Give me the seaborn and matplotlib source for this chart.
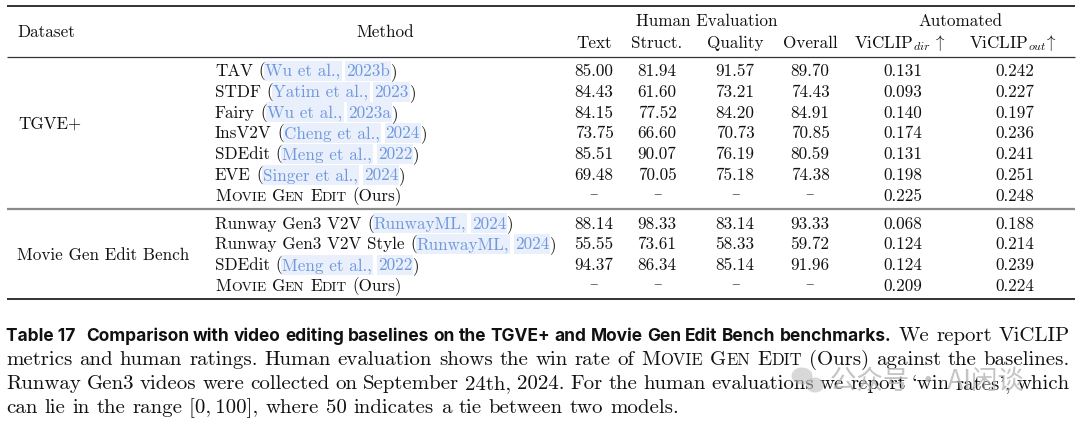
import matplotlib
matplotlib.use("Agg")
import matplotlib.pyplot as plt
from matplotlib.patches import Rectangle, Ellipse
from matplotlib import font_manager
import seaborn as sns

# ---------------- data ----------------
datasets = ["TGVE+", "Movie Gen Edit Bench"]
methods = ["TAV", "STDF", "Fairy", "InsV2V", "SDEdit", "EVE", "Movie Gen Edit",
           "Runway Gen3 V2V", "Runway Gen3 V2V Style", "SDEdit", "Movie Gen Edit"]
ours_flags = [False, False, False, False, False, False, True, False, False, False, True]
cite_authors = ["Wu et al.,", "Yatim et al.,", "Wu et al.,", "Cheng et al.,", "Meng et al.,",
                "Singer et al.,", None, "RunwayML,", "RunwayML,", "Meng et al.,", None]
cite_years = ["2023b", "2023", "2023a", "2024", "2022", "2024", None, "2024", "2024", "2022", None]
text_scores = [85.00, 84.43, 84.15, 73.75, 85.51, 69.48, None, 88.14, 55.55, 94.37, None]
struct_scores = [81.94, 61.60, 77.52, 66.60, 90.07, 70.05, None, 98.33, 73.61, 86.34, None]
quality_scores = [91.57, 73.21, 84.20, 70.73, 76.19, 75.18, None, 83.14, 58.33, 85.14, None]
overall_scores = [89.70, 74.43, 84.91, 70.85, 80.59, 74.38, None, 93.33, 59.72, 91.96, None]
viclip_dir = [0.131, 0.093, 0.140, 0.174, 0.131, 0.198, 0.225, 0.068, 0.124, 0.124, 0.209]
viclip_out = [0.242, 0.227, 0.197, 0.236, 0.241, 0.251, 0.248, 0.188, 0.214, 0.239, 0.224]
group_headers = ["Human Evaluation", "Automated"]
col_headers = ["Text", "Struct.", "Quality", "Overall",
               r"ViCLIP$_{dir}\,\uparrow$", r"ViCLIP$_{out}\!\uparrow$"]
left_headers = ["Dataset", "Method"]
caption_title = "Table 17"
caption_bold = "Comparison with video editing baselines on the TGVE+ and Movie Gen Edit Bench benchmarks."
caption_lines = [
    "We report ViCLIP",
    "metrics and human ratings. Human evaluation shows the win rate of {MOVIE} {GEN} {EDIT} (Ours) against the baselines.",
    "Runway Gen3 videos were collected on September 24th, 2024. For the human evaluations we report `win rates', which",
    "can lie in the range [0,\u2009100], where 50 indicates a tie between two models.",
]
watermark = "公众号 · AI闲谈"

# ---------------- style ----------------
sns.set_theme(style="white")
plt.rcParams["mathtext.fontset"] = "cm"
plt.rcParams["axes.unicode_minus"] = False

names = {f.name for f in font_manager.fontManager.ttflist}
SERIF = "cmr10" if "cmr10" in names else "DejaVu Serif"
SANS_BOLD = "Inter" if "Inter" in names else "Roboto"

TS = 12.3          # table font size
CS = 15.0          # caption serif size
INK = "#111111"
LINK = "#6f98de"
HL = "#eaf0fb"

fig = plt.figure(figsize=(10.8, 4.25), dpi=100)
ax = fig.add_axes([0, 0, 1, 1])
ax.set_xlim(0, 1080)
ax.set_ylim(425, 0)
ax.axis("off")
renderer = fig.canvas.get_renderer()


def fkw(r):
    return dict(family=r.get("family", SERIF), size=r.get("size", TS),
                weight=r.get("weight", "normal"), color=r.get("color", INK))


def width_of(s, **kw):
    t = ax.text(0, 0, s, **kw)
    w = t.get_window_extent(renderer).width
    t.remove()
    return w


def space_of(r):
    kw = fkw(r)
    return width_of("x x", **kw) - width_of("xx", **kw)


def draw_runs(x, y, runs, justify_to=None, hl_h=(15, 5)):
    widths = [width_of(r["s"], **fkw(r)) for r in runs]
    spaces = [space_of(r) * r.get("spmul", 1.0) if r.get("sp") else 0 for r in runs]
    total = sum(widths) + sum(spaces)
    nsp = sum(1 for r in runs if r.get("sp"))
    extra = 0
    if justify_to is not None and nsp:
        extra = (justify_to - x - total) / nsp
    cx = x
    for r, w, s in zip(runs, widths, spaces):
        if r.get("sp"):
            cx += s + extra
        ax.text(cx, y, r["s"], ha="left", va="baseline", zorder=3, **fkw(r))
        if r.get("hl"):
            ax.add_patch(Rectangle((cx - 1, y - hl_h[0]), w + 2, hl_h[0] + hl_h[1],
                                   fc=HL, ec="none", zorder=1))
        cx += w
    return cx


def smallcaps(word, size, sp, **extra):
    big = dict(s=word[0], size=size, sp=sp, **extra)
    small = dict(s=word[1:].upper(), size=size * 0.8, sp=False, **extra)
    return [big, small]


def words_to_runs(text, size, family=SERIF, first_sp=False):
    runs = []
    for i, w in enumerate(text.split(" ")):
        sp = first_sp or i > 0
        if w.startswith("{") and w.endswith("}"):
            runs += smallcaps(w[1:-1].capitalize(), size, sp, family=family)
        else:
            fam = [family, "DejaVu Serif"] if "\u2009" in w else family
            runs.append(dict(s=w, size=size, sp=sp, family=fam))
    return runs


# ---------------- rules ----------------
X0, X1 = 7, 1075
ax.plot([X0, X1], [6, 6], color="#222222", lw=1.3, solid_capstyle="butt")
ax.plot([X0, X1], [57, 57], color="#333333", lw=0.9, solid_capstyle="butt")
ax.plot([X0, X1], [208.5, 208.5], color="#8a8a8a", lw=1.6, solid_capstyle="butt")
ax.plot([X0, X1], [299, 299], color="#222222", lw=1.3, solid_capstyle="butt")

# ---------------- header ----------------
col_x = [594, 657, 735, 810, 900, 1013]
group_x = [707, 960]
ax.text(17, 37, left_headers[0], ha="left", va="baseline", family=SERIF, size=TS, color=INK)
ax.text(385, 37, left_headers[1], ha="center", va="baseline", family=SERIF, size=TS, color=INK)
for gx, g in zip(group_x, group_headers):
    ax.text(gx, 25.5, g, ha="center", va="baseline", family=SERIF, size=TS, color=INK)
for cx, h in zip(col_x, col_headers):
    ax.text(cx, 47.5, h, ha="center", va="baseline", family=SERIF, size=TS, color=INK)

# ---------------- body ----------------
STEP = 20.83
row_base = [76 + i * STEP for i in range(7)] + [228.5 + i * STEP for i in range(4)]
ax.text(18, 128.5, datasets[0], ha="left", va="baseline", family=SERIF, size=TS, color=INK)
ax.text(17, 260, datasets[1], ha="left", va="baseline", family=SERIF, size=TS, color=INK)

MX = 215
for i, m in enumerate(methods):
    y = row_base[i]
    if ours_flags[i]:
        runs = []
        for j, w in enumerate(m.split(" ")):
            runs += smallcaps(w, TS, j > 0)
        runs.append(dict(s="(Ours)", sp=True))
    else:
        runs = [dict(s=m), dict(s="(", sp=True)]
        runs.append(dict(s=cite_authors[i], color=LINK, hl=True))
        runs.append(dict(s=cite_years[i], color=LINK, hl=True, sp=True))
        runs.append(dict(s=")"))
    draw_runs(MX, y, runs, hl_h=(15.2, 4.8))

columns = [text_scores, struct_scores, quality_scores, overall_scores]
for cx, vals in zip(col_x[:4], columns):
    for i, v in enumerate(vals):
        if v is None:
            ax.text(cx, row_base[i] - 1.5, "–", ha="center", va="baseline",
                    family=["DejaVu Serif"], size=TS, color="#555555")
        else:
            ax.text(cx, row_base[i], f"{v:.2f}", ha="center", va="baseline",
                    family=SERIF, size=TS, color=INK)
for cx, vals in zip([903, 1015], [viclip_dir, viclip_out]):
    for i, v in enumerate(vals):
        ax.text(cx, row_base[i], f"{v:.3f}", ha="center", va="baseline",
                family=SERIF, size=TS, color=INK)

# ---------------- caption ----------------
CY = [341, 365, 389, 413]
CX0, CX1 = 6, 1070
target_bold = 890 - CX0
trial = 12.0
bw = width_of(caption_title + "   " + caption_bold, family=SANS_BOLD, size=trial, weight="bold")
bsize = trial * target_bold / bw
line1 = [dict(s=caption_title, family=SANS_BOLD, size=bsize, weight="bold")]
line1 += [dict(s=w, family=SANS_BOLD, size=bsize, weight="bold", sp=True,
               spmul=(2.5 if k == 0 else 1.0))
          for k, w in enumerate(caption_bold.split(" "))]
line1 += words_to_runs(caption_lines[0], CS, first_sp=True)
draw_runs(CX0, CY[0], line1, justify_to=CX1)
for k in (1, 2):
    draw_runs(CX0, CY[k], words_to_runs(caption_lines[k], CS), justify_to=CX1)
draw_runs(CX0, CY[3], words_to_runs(caption_lines[3], CS))

# ---------------- watermark ----------------
ax.add_patch(Ellipse((802, 376), 21, 17, fc="#b8b8b8", ec="none", alpha=0.55, zorder=5))
ax.add_patch(Ellipse((815, 385), 18, 15, fc="#b8b8b8", ec="none", alpha=0.55, zorder=5))
ax.text(830, 381, watermark, ha="left", va="center",
        family=["Noto Sans CJK SC", "DejaVu Sans"], size=19, color="#b0b0b0",
        alpha=0.75, zorder=5)

fig.savefig("out.png", dpi=100, facecolor="white")
